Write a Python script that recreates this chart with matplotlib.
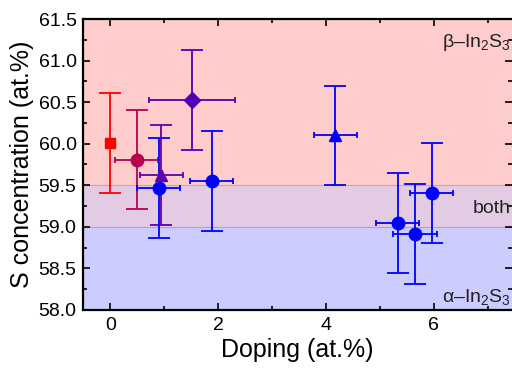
import matplotlib
matplotlib.use("Agg")
import matplotlib.pyplot as plt
from matplotlib.ticker import MultipleLocator, FormatStrFormatter

plt.rcParams['font.family'] = ['Liberation Sans', 'DejaVu Sans']
plt.rcParams['mathtext.fontset'] = 'custom'
plt.rcParams['mathtext.rm'] = 'Liberation Sans'
plt.rcParams['mathtext.it'] = 'Liberation Sans'

# Samples: doping level, S concentration and their uncertainties
doping = [0.0, 0.49, 0.94, 0.90, 1.51, 1.88, 4.17, 5.33, 5.65, 5.96]
s_conc = [60.01, 59.81, 59.62, 59.47, 60.53, 59.55, 60.10, 59.05, 58.91, 59.41]
doping_err = [0.0, 0.4, 0.4, 0.4, 0.8, 0.4, 0.4, 0.4, 0.4, 0.4]
s_err = [0.6, 0.6, 0.6, 0.6, 0.6, 0.6, 0.6, 0.6, 0.6, 0.6]
markers = ['s', 'o', '^', 'o', 'D', 'o', '^', 'o', 'o', 'o']
marker_sizes = [7, 9, 8.5, 9, 8, 9, 8.5, 9, 9, 9]
colors = ['#ff0000', '#b8004e', '#6000a8', '#0000ff', '#5000b8',
          '#0000ff', '#0000ff', '#0000ff', '#0000ff', '#0000ff']

# Phase regions along the S concentration axis
phase_bounds = [(59.5, 61.5), (59.0, 59.5), (58.0, 59.0)]
phase_colors = ['#ffcccc', '#e3cbe3', '#ccccff']
phase_labels = ['\u03b2\u2013In$_2$S$_3$', 'both', '\u03b1\u2013In$_2$S$_3$']
label_y = [61.22, 59.22, 58.15]

fig = plt.figure(figsize=(5.12, 3.73), dpi=100)
ax = fig.add_axes([0.163, 0.169, 0.837, 0.780])

for (lo, hi), c in zip(phase_bounds, phase_colors):
    ax.axhspan(lo, hi, color=c, lw=0, zorder=0)
ax.axhline(59.5, color='#c8a0c8', lw=0.8, zorder=0.5)
ax.axhline(59.0, color='#a8a0e0', lw=0.8, zorder=0.5)

for x, y, xe, ye, m, ms, c in zip(doping, s_conc, doping_err, s_err,
                                   markers, marker_sizes, colors):
    ax.errorbar(x, y, yerr=ye, fmt='none', ecolor=c, elinewidth=1.3,
                capsize=8, capthick=1.3, zorder=2)
    if xe > 0:
        ax.errorbar(x, y, xerr=xe, fmt='none', ecolor=c, elinewidth=1.3,
                    capsize=2.5, capthick=1.3, zorder=2)
    ax.plot(x, y, marker=m, ms=ms, color=c, mec=c, ls='none', zorder=3)

for txt, y in zip(phase_labels, label_y):
    ax.text(0.997, y, txt, transform=ax.get_yaxis_transform(), ha='right',
            va='center', fontsize=14, color='#222222', zorder=4)

ax.set_xlim(-0.5, 7.45)
ax.set_ylim(58.0, 61.5)
ax.xaxis.set_major_locator(MultipleLocator(2))
ax.xaxis.set_minor_locator(MultipleLocator(1))
ax.yaxis.set_major_locator(MultipleLocator(0.5))
ax.yaxis.set_minor_locator(MultipleLocator(0.25))
ax.yaxis.set_major_formatter(FormatStrFormatter('%.1f'))

ax.tick_params(which='both', direction='in', top=True, right=True,
               labelsize=14, width=1.2, colors='black')
ax.tick_params(which='major', length=5, pad=5)
ax.tick_params(which='minor', length=3)
for side in ['left', 'bottom', 'top']:
    ax.spines[side].set_linewidth(1.6)
ax.spines['right'].set_visible(False)

ax.set_xlabel('Doping (at.%)', fontsize=18, labelpad=3)
ax.set_ylabel('S concentration (at.%)', fontsize=18, labelpad=3)

fig.savefig('out.png', dpi=100)
